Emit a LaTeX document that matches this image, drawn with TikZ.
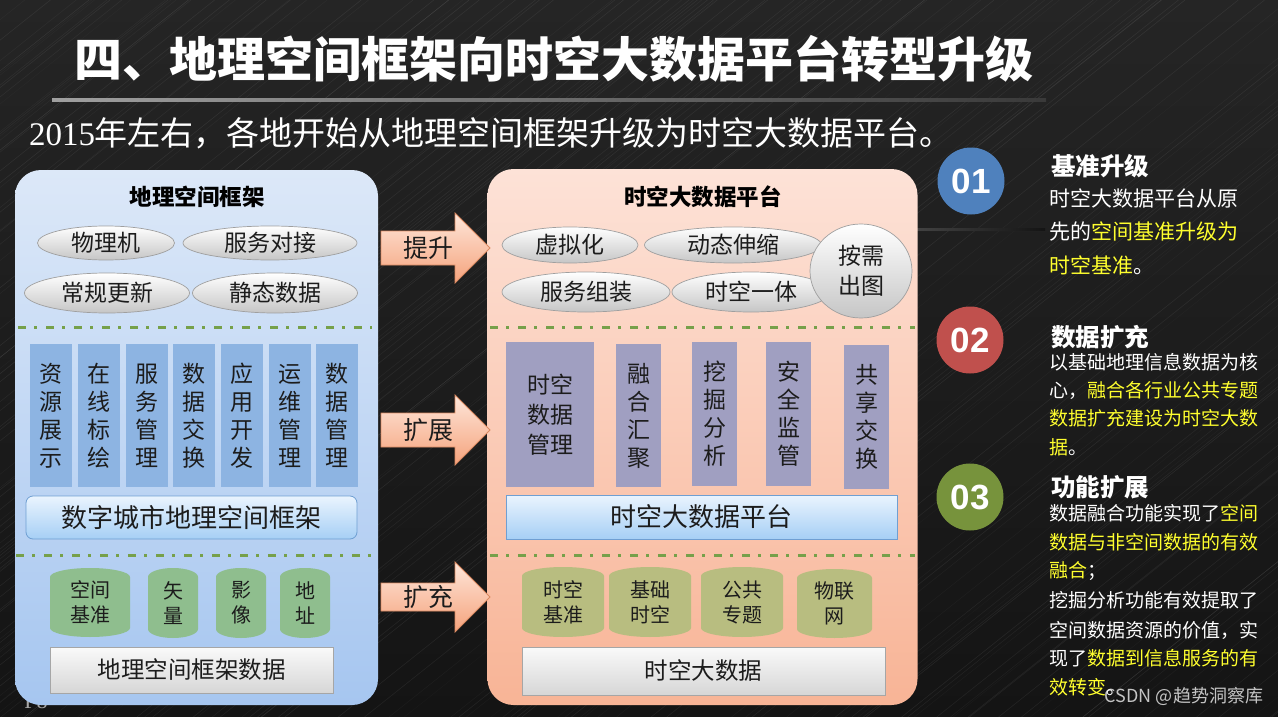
\documentclass[tikz,border=0pt]{standalone}
\usepackage{fontspec}
\setmainfont{Noto Sans CJK SC}
\newfontfamily\digserif{Liberation Serif}
\newfontfamily\numfont{Liberation Sans}
\usetikzlibrary{shadings,shapes.geometric}
\definecolor{bgtop}{HTML}{252525}
\definecolor{bgbot}{HTML}{141414}
\definecolor{panLt}{HTML}{DCE8F8}
\definecolor{panLb}{HTML}{A6C6F0}
\definecolor{panRt}{HTML}{FDE2D7}
\definecolor{panRb}{HTML}{F8B496}
\definecolor{vblue}{HTML}{8DB4E2}
\definecolor{vpurp}{HTML}{A09FC1}
\definecolor{cylgreen}{HTML}{8FBE8E}
\definecolor{cylolive}{HTML}{B8BD80}
\definecolor{dashgreen}{HTML}{76A04A}
\definecolor{ybright}{HTML}{FFFF2E}
\definecolor{cone}{HTML}{4F81BD}
\definecolor{ctwo}{HTML}{C0504D}
\definecolor{cthree}{HTML}{77933C}
\definecolor{arrT}{HTML}{FEE7DA}
\definecolor{arrB}{HTML}{F5A27C}
\definecolor{arrD}{HTML}{DB8A62}
\definecolor{txt}{HTML}{1C1C1C}
\definecolor{lbT}{HTML}{EAF4FE}
\definecolor{lbB}{HTML}{A6CFF5}
\definecolor{lbD}{HTML}{6F9FD2}

\newcommand{\bigarrow}[5]{% name, x0, yc, body half, text
  \draw[arrowbody] (#2,#3-#4) -- ++(74,0) -- (#2+74,#3-35) -- (#2+109,#3) -- (#2+74,#3+35) -- (#2+74,#3+#4) -- (#2,#3+#4) -- cycle;
  \node[arrtext] (#1) at (#2+47,#3) {#5};
}
\newcommand{\dbcyl}[7]{% name, cx, ytop, ybot, halfwidth, colour, text
  \fill[#6] ({#2-#5},{#3+9}) arc[start angle=180,end angle=0,x radius=#5pt,y radius=9pt] -- ({#2+#5},{#4-9}) arc[start angle=0,end angle=-180,x radius=#5pt,y radius=9pt] -- cycle;
  \node[cyltext] (#1) at (#2,{(#3+#4)/2}) {#7};
}

\tikzset{
  base/.style={inner sep=0pt, outer sep=0pt},
  ell/.style={base, ellipse, draw=gray!75, line width=0.7pt, top color=white, bottom color=gray!45, text=txt, align=center, font=\fontsize{23}{30}\selectfont},
  vbox/.style={base, fill=vblue, text=txt, align=center, font=\fontsize{23}{28}\selectfont},
  pbox/.style={base, fill=vpurp, text=txt, align=center, font=\fontsize{23}{28}\selectfont},
  lblbox/.style={base, draw=lbD, line width=0.8pt, top color=lbT, bottom color=lbB, text=txt, font=\fontsize{26}{26}\selectfont},
  graybox/.style={base, draw=gray!70, line width=0.8pt, top color=gray!4, bottom color=gray!32, text=txt, font=\fontsize{23.5}{23.5}\selectfont},
  cyltext/.style={base, align=center, text=txt, font=\fontsize{20}{25}\selectfont},
  dashline/.style={dashgreen, line width=3pt, dash pattern=on 8pt off 8pt on 3pt off 9pt},
  arrowbody/.style={top color=arrT, bottom color=arrB, draw=arrD, line width=0.8pt, line join=miter},
  arrtext/.style={base, text=txt, font=\fontsize{25}{25}\selectfont},
  ptitle/.style={base, text=black, font=\bfseries\fontsize{22.5}{22.5}\selectfont},
  numc/.style={base, circle, minimum size=67pt, text=white, font=\numfont\bfseries\fontsize{35}{35}\selectfont},
  headt/.style={base, anchor=west, text=white, font=\bfseries\fontsize{24.5}{24.5}\selectfont},
  bodyA/.style={base, anchor=west, text=white, font=\fontsize{21}{21}\selectfont},
  bodyB/.style={base, anchor=west, text=white, font=\fontsize{19}{19}\selectfont},
}

\begin{document}
\begin{tikzpicture}[x=1pt,y=-1pt]
\useasboundingbox (0,0) rectangle (1278,717);
% background
\shade[top color=bgtop, bottom color=bgbot] (0,0) rectangle (1278,717);
\begin{scope}
  \clip (0,0) rectangle (1278,717);
  \pgfmathsetseed{12}
  \foreach \i in {1,...,170}{
    \pgfmathsetmacro{\xs}{rnd*2300-900}
    \pgfmathsetmacro{\op}{0.02+0.05*rnd}
    \draw[white, opacity=\op, line width=0.6pt] (\xs,717) -- ++(900,-717);
  }
\end{scope}
\shade[left color=gray!55!black, right color=bgbot] (905,228.5) rectangle (1045,230);

% title
\node[base, anchor=west, text=white, font=\bfseries\fontsize{48}{48}\selectfont] (title) at (74,59) {四、地理空间框架向时空大数据平台转型升级};
\shade[left color=gray!75, right color=gray!45!black] (52,98.5) rectangle (1046,101.5);
\node[base, anchor=west, text=white, font=\fontsize{33}{33}\selectfont] (subtitle) at (29,133) {{\digserif 2015}年左右，各地开始从地理空间框架升级为时空大数据平台。};

% page number (mostly hidden)
\node[base, text=gray!70, font=\digserif\fontsize{22}{22}\selectfont] (pnum) at (36,701) {P8};

% panels
\node[base, rounded corners=26pt, top color=panLt, bottom color=panLb, minimum width=363pt, minimum height=535pt] (panelL) at (196.5,437.5) {};
\node[base, rounded corners=26pt, top color=panRt, bottom color=panRb, minimum width=430pt, minimum height=536pt] (panelR) at (702.5,437) {};

\node[ptitle] (titleL) at (197,197) {地理空间框架};
\node[ptitle] (titleR) at (703,197) {时空大数据平台};

% left ellipses
\node[ell, minimum width=137pt, minimum height=34pt] (l1) at (106,243) {物理机};
\node[ell, minimum width=174pt, minimum height=34pt] (l2) at (270,243) {服务对接};
\node[ell, minimum width=165pt, minimum height=40pt] (l3) at (107,293) {常规更新};
\node[ell, minimum width=165pt, minimum height=40pt] (l4) at (275,293) {静态数据};

% right ellipses
\node[ell, minimum width=136pt, minimum height=36pt] (r1) at (570,245) {虚拟化};
\node[ell, minimum width=177pt, minimum height=36pt] (r2) at (733,245) {动态伸缩};
\node[ell, minimum width=168pt, minimum height=40pt] (r3) at (586,292) {服务组装};
\node[ell, minimum width=158pt, minimum height=40pt] (r4) at (751,292) {时空一体};
\node[ell, minimum width=102pt, minimum height=94pt] (r5) at (861,271) {按需\\出图};

% dash lines
\draw[dashline] (18,327) -- (372,327);
\draw[dashline] (16,555) -- (372,555);
\draw[dashline] (490,327) -- (915,327);
\draw[dashline] (490,555) -- (915,555);

% left vertical boxes
\node[vbox, minimum width=42pt, minimum height=143pt] (v1) at (51,415.5) {资\\源\\展\\示};
\node[vbox, minimum width=42pt, minimum height=143pt] (v2) at (99,415.5) {在\\线\\标\\绘};
\node[vbox, minimum width=42pt, minimum height=143pt] (v3) at (147,415.5) {服\\务\\管\\理};
\node[vbox, minimum width=42pt, minimum height=143pt] (v4) at (194,415.5) {数\\据\\交\\换};
\node[vbox, minimum width=42pt, minimum height=143pt] (v5) at (242,415.5) {应\\用\\开\\发};
\node[vbox, minimum width=42pt, minimum height=143pt] (v6) at (290,415.5) {运\\维\\管\\理};
\node[vbox, minimum width=42pt, minimum height=143pt] (v7) at (337,415.5) {数\\据\\管\\理};
\node[lblbox, rounded corners=7pt, minimum width=331pt, minimum height=43pt] (boxL) at (191.5,517.5) {数字城市地理空间框架};

% right purple boxes
\node[pbox, minimum width=88pt, minimum height=145pt, font=\fontsize{23}{30}\selectfont] (p1) at (550,414.5) {时空\\数据\\管理};
\node[pbox, minimum width=45pt, minimum height=143pt] (p2) at (638.5,415.5) {融\\合\\汇\\聚};
\node[pbox, minimum width=45pt, minimum height=144pt] (p3) at (714.5,414) {挖\\掘\\分\\析};
\node[pbox, minimum width=45pt, minimum height=144pt] (p4) at (788.5,414) {安\\全\\监\\管};
\node[pbox, minimum width=45pt, minimum height=144pt] (p5) at (866.5,417) {共\\享\\交\\换};
\node[lblbox, minimum width=391pt, minimum height=44pt] (boxR) at (701.5,517) {时空大数据平台};

% cylinders
\dbcyl{g1}{90}{568}{637}{40}{cylgreen}{空间\\基准}
\dbcyl{g2}{173}{568}{638}{25}{cylgreen}{矢\\量}
\dbcyl{g3}{241}{568}{638}{25}{cylgreen}{影\\像}
\dbcyl{g4}{305}{568}{638}{25}{cylgreen}{地\\址}
\dbcyl{o1}{563}{567}{637}{41}{cylolive}{时空\\基准}
\dbcyl{o2}{650}{567}{637}{41}{cylolive}{基础\\时空}
\dbcyl{o3}{742}{567}{637}{41}{cylolive}{公共\\专题}
\dbcyl{o4}{834.5}{569}{638}{37.5}{cylolive}{物联\\网}

\node[graybox, minimum width=283pt, minimum height=46pt] (dataL) at (191.5,670) {地理空间框架数据};
\node[graybox, minimum width=363pt, minimum height=48pt] (dataR) at (703.5,671) {时空大数据};

% block arrows
\bigarrow{a1}{381}{248}{17}{提升}
\bigarrow{a2}{381}{430}{17}{扩展}
\bigarrow{a3}{381}{597}{14}{扩充}

% right column
\node[numc, fill=cone] (n1) at (971,181) {01};
\node[numc, fill=ctwo] (n2) at (970,340) {02};
\node[numc, fill=cthree] (n3) at (970,497) {03};

\node[headt] (h1) at (1051,166) {基准升级};
\node[bodyA] (t11) at (1049,198) {时空大数据平台从原};
\node[bodyA] (t12) at (1049,232) {先的\textcolor{ybright}{空间基准升级为}};
\node[bodyA] (t13) at (1049,265) {\textcolor{ybright}{时空基准}。};

\node[headt] (h2) at (1051,337) {数据扩充};
\node[bodyB] (t21) at (1049,362) {以基础地理信息数据为核};
\node[bodyB] (t22) at (1049,390) {心，\textcolor{ybright}{融合各行业公共专题}};
\node[bodyB] (t23) at (1049,418) {\textcolor{ybright}{数据扩充建设为时空大数}};
\node[bodyB] (t24) at (1049,447) {\textcolor{ybright}{据}。};

\node[headt] (h3) at (1051,487) {功能扩展};
\node[bodyB] (t31) at (1049,513) {数据融合功能实现了\textcolor{ybright}{空间}};
\node[bodyB] (t32) at (1049,542) {\textcolor{ybright}{数据与非空间数据的有效}};
\node[bodyB] (t33) at (1049,571) {\textcolor{ybright}{融合}；};
\node[bodyB] (t34) at (1049,600) {挖掘分析功能有效提取了};
\node[bodyB] (t35) at (1049,630) {空间数据资源的价值，实};
\node[bodyB] (t36) at (1049,658) {现了\textcolor{ybright}{数据到信息服务的有}};
\node[bodyB] (t37) at (1049,687) {\textcolor{ybright}{效转变}。};

\node[base, anchor=east, text=white, opacity=0.75, font=\fontsize{18}{18}\selectfont] (wm) at (1263,696) {CSDN @趋势洞察库};
\end{tikzpicture}
\end{document}
